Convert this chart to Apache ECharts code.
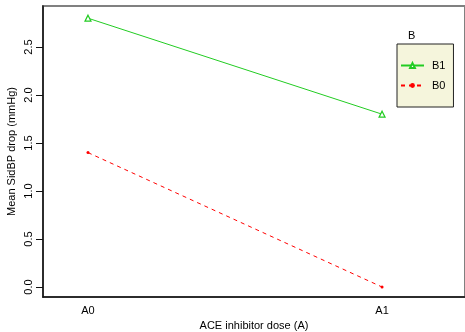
<!DOCTYPE html>
<html>
<head>
<meta charset="UTF-8">
<style>
    html, body { margin: 0; background: #fff; }
    #chart { width: 465px; height: 332px; }
</style>
</head>
<body>
<div id="chart"></div>
<script src="https://cdn.jsdelivr.net/npm/echarts@6/dist/echarts.min.js"></script>
<script>
    // data
    var doseLevels = ['A0', 'A1'];
    var doseX = [0, 1];
    var b1Values = [2.8, 1.8];
    var b0Values = [1.4, 0.0];
    var yTicks = [0, 0.5, 1, 1.5, 2, 2.5];

    var font = 'Liberation Sans, Arial, Helvetica, sans-serif';

    function pairs(vals) {
        return vals.map(function (v, i) { return [doseX[i], v]; });
    }

    var chart = echarts.init(document.getElementById('chart'));

    chart.setOption({
        animation: false,
        textStyle: { fontFamily: font, color: '#000' },
        title: {
            text: 'B',
            left: 403,
            top: 25,
            textStyle: { fontSize: 11, fontWeight: 'normal', color: '#000', fontFamily: font }
        },
        legend: {
            orient: 'vertical',
            left: 397,
            top: 44,
            data: ['B1', 'B0'],
            itemWidth: 23,
            itemHeight: 6,
            itemGap: 9,
            padding: [16, 8, 16, 3],
            backgroundColor: '#f5f5dc',
            borderColor: '#222',
            borderWidth: 1,
            textStyle: { fontSize: 11, color: '#000', fontFamily: font, padding: [0, 0, 0, 3] }
        },
        grid: {
            left: 43, right: 0, top: 6, bottom: 35,
            show: true,
            borderColor: '#808080',
            borderWidth: 2,
            containLabel: false,
            outerBoundsMode: 'none'
        },
        xAxis: {
            type: 'value',
            min: -0.153,
            max: 1.282,
            name: 'ACE inhibitor dose (A)',
            nameLocation: 'middle',
            nameGap: 23,
            nameMoveOverlap: false,
            nameTextStyle: { fontSize: 11, color: '#000', fontFamily: font },
            axisLine: { show: true, onZero: false, lineStyle: { color: '#111', width: 1.5 } },
            axisTick: { show: false },
            splitLine: { show: false },
            axisLabel: {
                customValues: doseX,
                formatter: function (v) { return doseLevels[doseX.indexOf(v)] || ''; },
                fontSize: 11,
                color: '#000',
                margin: 8
            }
        },
        yAxis: {
            type: 'value',
            min: -0.104,
            max: 2.927,
            name: 'Mean SidBP drop (mmHg)',
            nameLocation: 'middle',
            nameGap: 26,
            nameRotate: 90,
            nameMoveOverlap: false,
            nameTextStyle: { fontSize: 11, color: '#000', fontFamily: font },
            axisLine: { show: true, onZero: false, lineStyle: { color: '#111', width: 1.5 } },
            axisTick: { show: true, customValues: yTicks, length: 7, lineStyle: { color: '#111' } },
            splitLine: { show: false },
            axisLabel: {
                customValues: yTicks,
                rotate: 90,
                fontSize: 11,
                color: '#000',
                margin: 9,
                formatter: function (v) { return v.toFixed(1); }
            }
        },
        series: [
            {
                name: 'B1',
                type: 'line',
                data: pairs(b1Values),
                symbol: 'triangle',
                symbolSize: 6,
                showAllSymbol: true,
                lineStyle: { color: '#22cc22', width: 1 },
                itemStyle: { color: '#ffffff', borderColor: '#22cc22', borderWidth: 1.2 }
            },
            {
                name: 'B0',
                type: 'line',
                data: pairs(b0Values),
                symbol: 'circle',
                symbolSize: 3,
                lineStyle: { color: '#ff0000', width: 1, type: [4, 4] },
                itemStyle: { color: '#ff0000', borderWidth: 0 }
            }
        ]
    });
</script>
</body>
</html>
